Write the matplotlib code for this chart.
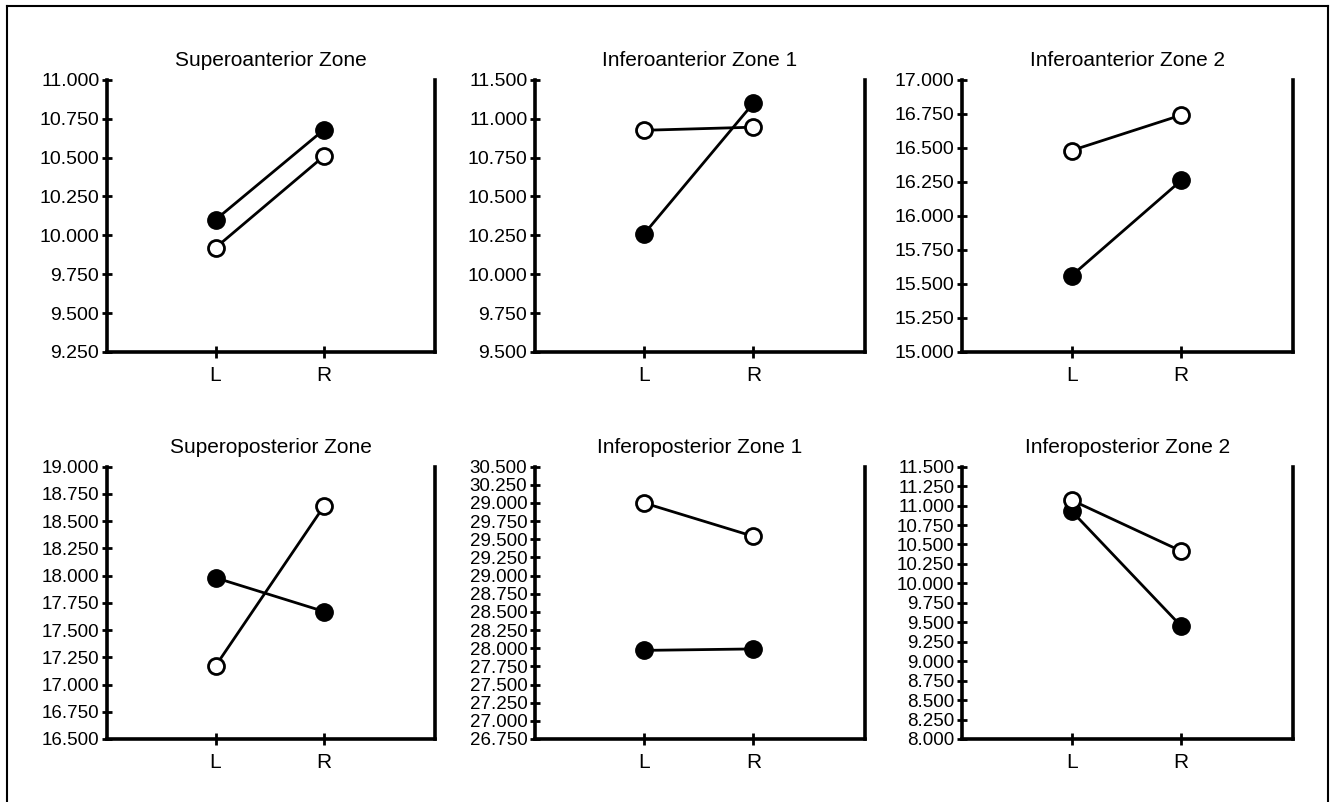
import numpy as np
import matplotlib
matplotlib.use("Agg")
import matplotlib.pyplot as plt
from matplotlib.lines import Line2D

plt.rcParams['font.family'] = ['Liberation Sans', 'DejaVu Sans']

sides = ["L", "R"]

titles = ["Superoanterior Zone", "Inferoanterior Zone 1", "Inferoanterior Zone 2",
          "Superoposterior Zone", "Inferoposterior Zone 1", "Inferoposterior Zone 2"]

# filled circles / open circles, values at L and R
filled = [[10.10, 10.68], [10.26, 11.10], [15.56, 16.26],
          [17.98, 17.67], [27.97, 27.99], [10.93, 9.45]]
hollow = [[9.92, 10.51], [10.925, 10.945], [16.48, 16.74],
          [17.17, 18.64], [30.00, 29.54], [11.07, 10.415]]

# axis start values (ticks every 0.25)
ystart = [9.25, 9.5, 15.0, 16.5, 26.75, 8.0]

# tick labels as printed (some misprints kept as in the original)
tick_labels = [
    ["9.250", "9.500", "9.750", "10.000", "10.250", "10.500", "10.750", "11.000"],
    ["9.500", "9.750", "10.000", "10.250", "10.500", "10.750", "11.000", "11.500"],
    ["15.000", "15.250", "15.500", "15.750", "16.000", "16.250", "16.500", "16.750", "17.000"],
    ["16.500", "16.750", "17.000", "17.250", "17.500", "17.750", "18.000", "18.250",
     "18.500", "18.750", "19.000"],
    ["26.750", "27.000", "27.250", "27.500", "27.750", "28.000", "28.250", "28.500",
     "28.750", "29.000", "29.250", "29.500", "29.750", "29.000", "30.250", "30.500"],
    ["8.000", "8.250", "8.500", "8.750", "9.000", "9.250", "9.500", "9.750", "10.000",
     "10.250", "10.500", "10.750", "11.000", "11.250", "11.500"],
]

fig = plt.figure(figsize=(13.35, 8.02), dpi=100)

lefts = [0.0801, 0.4007, 0.7206]
widths = [0.2457, 0.2472, 0.2479]
bottoms = [0.5611, 0.0786]
height = 0.3395

for i in range(6):
    r, c = divmod(i, 3)
    ax = fig.add_axes([lefts[c], bottoms[r], widths[c], height])
    x = np.arange(len(sides))
    ax.plot(x, filled[i], color='black', lw=2, marker='o', ms=12.5,
            mfc='black', mec='black', zorder=3)
    ax.plot(x, hollow[i], color='black', lw=2, marker='o', ms=11.5,
            mfc='white', mec='black', mew=2, zorder=4)
    n = len(tick_labels[i])
    ticks = ystart[i] + 0.25 * np.arange(n)
    ax.set_yticks(ticks)
    ax.set_yticklabels(tick_labels[i])
    ax.set_ylim(ticks[0], ticks[-1])
    ax.set_xlim(-1.0, 2.02)
    ax.set_xticks(x)
    ax.set_xticklabels(sides)
    ax.set_title(titles[i], fontsize=15, pad=10)
    for s in ['left', 'bottom', 'right']:
        ax.spines[s].set_linewidth(2.6)
    ax.spines['top'].set_visible(False)
    ax.tick_params(axis='y', direction='inout', length=7, width=2,
                   labelsize=14 if r == 0 else 13.5, pad=2)
    ax.tick_params(axis='x', direction='inout', length=8, width=2, labelsize=15, pad=6)

# outer frame (open at the bottom)
fig.add_artist(Line2D([7 / 1335, 7 / 1335], [0, 1 - 6 / 802], color='black', lw=1.5))
fig.add_artist(Line2D([7 / 1335, 1328 / 1335], [1 - 6 / 802, 1 - 6 / 802], color='black', lw=1.5))
fig.add_artist(Line2D([1328 / 1335, 1328 / 1335], [0, 1 - 6 / 802], color='black', lw=1.5))

fig.savefig("out.png", dpi=100)
